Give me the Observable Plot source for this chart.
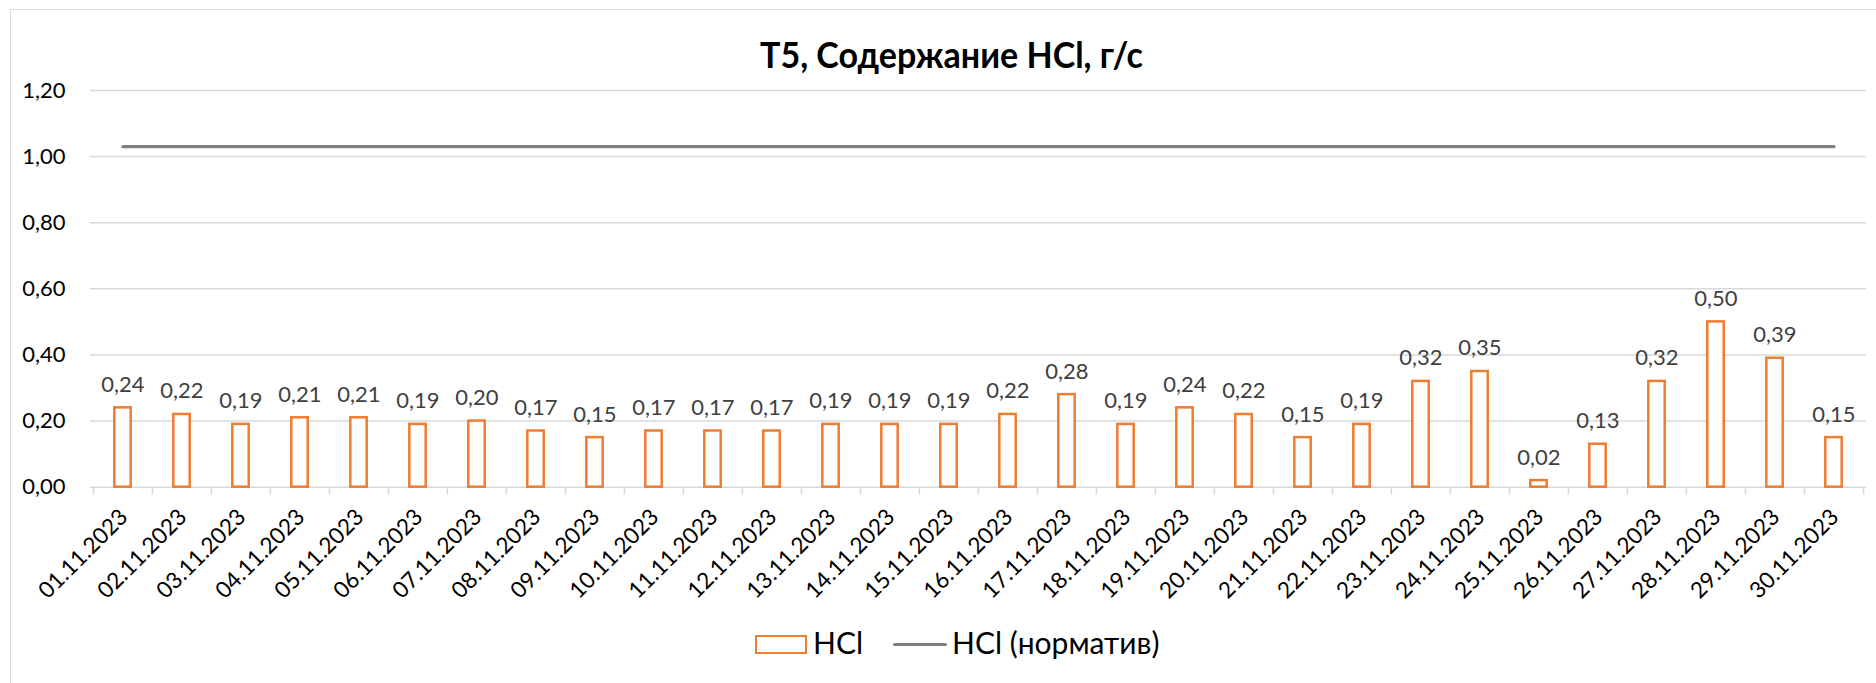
<!DOCTYPE html>
<html><head><meta charset="utf-8">
<script src="https://cdn.jsdelivr.net/npm/d3@7"></script>
<script src="https://cdn.jsdelivr.net/npm/@observablehq/plot@0.6"></script>
<style>
html,body{margin:0;padding:0;background:#fff;overflow:hidden;}
#wrap{position:relative;width:1876px;height:683px;font-family:Lato,sans-serif;overflow:hidden;}
#border{position:absolute;left:10px;top:9px;width:1900px;height:700px;border-left:1.5px solid #d9d9d9;border-top:1.5px solid #d9d9d9;}
#chart{position:absolute;left:0;top:0;}
#title{position:absolute;left:760px;top:35px;font-size:37px;font-weight:700;line-height:37px;white-space:nowrap;transform-origin:0 0;color:#000;}
.lg{position:absolute;}
.lgtext{font-size:30px;line-height:30px;top:627px;white-space:nowrap;color:#000;}
</style></head>
<body>
<div id="wrap">
  <div id="border"></div>
  <div id="chart"></div>
  <div id="title"><span id="tspan">Т5, Содержание HCl, г/с</span></div>
  <div class="lg" style="left:755px;top:635px;width:52px;height:19px;box-sizing:border-box;border:2px solid #ED7D31;background:#fff;"></div>
  <div class="lg lgtext" style="left:813px;">HCl</div>
  <div class="lg" style="left:893px;top:642.5px;width:54px;height:3.3px;border-radius:2px;background:#808080;"></div>
  <div class="lg lgtext" style="left:952px;">HCl (норматив)</div>
</div>
<script>
const dates = ["01.11.2023","02.11.2023","03.11.2023","04.11.2023","05.11.2023","06.11.2023","07.11.2023","08.11.2023","09.11.2023","10.11.2023","11.11.2023","12.11.2023","13.11.2023","14.11.2023","15.11.2023","16.11.2023","17.11.2023","18.11.2023","19.11.2023","20.11.2023","21.11.2023","22.11.2023","23.11.2023","24.11.2023","25.11.2023","26.11.2023","27.11.2023","28.11.2023","29.11.2023","30.11.2023"];
const hcl = [0.24,0.22,0.19,0.21,0.21,0.19,0.20,0.17,0.15,0.17,0.17,0.17,0.19,0.19,0.19,0.22,0.28,0.19,0.24,0.22,0.15,0.19,0.32,0.35,0.02,0.13,0.32,0.50,0.39,0.15];
const hclNorm = [1.03,1.03,1.03,1.03,1.03,1.03,1.03,1.03,1.03,1.03,1.03,1.03,1.03,1.03,1.03,1.03,1.03,1.03,1.03,1.03,1.03,1.03,1.03,1.03,1.03,1.03,1.03,1.03,1.03,1.03];
const yTicks = [0,0.2,0.4,0.6,0.8,1.0,1.2];

const data = dates.map((d,i)=>({date:d, hcl:hcl[i], norm:hclNorm[i]}));
const W=1876, H=683, mL=90, mR=10, mT=90, mB=196.3;
const bw = (W-mL-mR)/dates.length;
const fmt = v => v.toFixed(2).replace(".", ",");

const chart = Plot.plot({
  width:W, height:H, marginLeft:mL, marginRight:mR, marginTop:mT, marginBottom:mB,
  style:{fontFamily:"Lato, sans-serif", fontSize:"22px", background:"transparent", overflow:"visible"},
  x:{domain:dates, padding:0, axis:null},
  y:{domain:[0,1.2], axis:null},
  marks:[
    Plot.ruleY(yTicks, {stroke:"#d9d9d9", strokeWidth:1.5}),
    Plot.axisY({ticks:yTicks, tickSize:0, tickPadding:25, tickFormat:fmt, fill:"#000", label:null, fontSize:22}),
    Plot.ruleX(data, {x:"date", y1:0, y2:0, dx:-bw/2, insetBottom:-8, stroke:"#d9d9d9", strokeWidth:1.5}),
    Plot.ruleX([data[data.length-1]], {x:"date", y1:0, y2:0, dx:bw/2, insetBottom:-8, stroke:"#d9d9d9", strokeWidth:1.5}),
    Plot.barY(data, {x:"date", y:"hcl", fill:"#fff", stroke:"#ED7D31", strokeWidth:2.5, insetLeft:21.3, insetRight:21.3}),
    Plot.lineY(data, {x:"date", y:"norm", stroke:"#808080", strokeWidth:3.3, strokeLinecap:"round"}),
    Plot.text(data, {x:"date", y:"hcl", text:d=>fmt(d.hcl), lineAnchor:"bottom", dy:-16, fill:"#404040", fontSize:22}),
    Plot.text(data, {x:"date", frameAnchor:"bottom", text:"date", rotate:-45, textAnchor:"end", lineAnchor:"middle", dy:26, dx:1, fill:"#000", fontSize:22.5})
  ]
});
document.getElementById("chart").appendChild(chart);
const ts = document.getElementById("tspan");
const w = ts.getBoundingClientRect().width;
document.getElementById("title").style.transform = `scaleX(${383/w})`;
</script>
</body></html>
